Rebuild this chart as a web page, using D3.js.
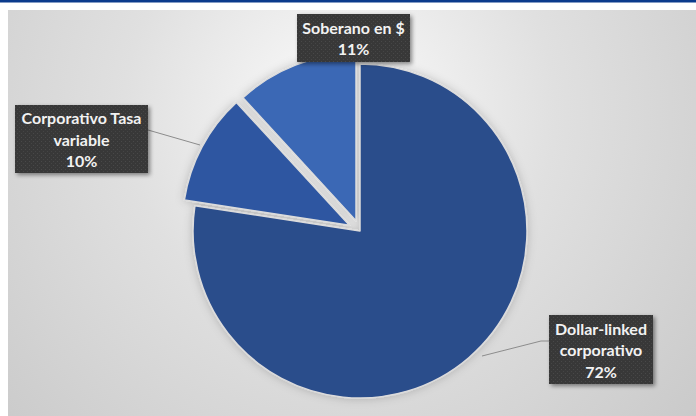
<!DOCTYPE html>
<html><head><meta charset="utf-8">
<script src="https://cdn.jsdelivr.net/npm/d3@7"></script>
<style>html,body{margin:0;padding:0;background:#fff;}svg{display:block;}</style>
</head><body>
<script>
const categories = ["Dollar-linked corporativo", "Corporativo Tasa variable", "Soberano en $"];
const values = [72, 10, 11];
const labelLines = [["Dollar-linked", "corporativo", "72%"], ["Corporativo Tasa", "variable", "10%"], ["Soberano en $", "11%"]];

const W = 696, H = 416;
const svg = d3.select("body").append("svg").attr("width", W).attr("height", H);
const defs = svg.append("defs");

const bg = defs.append("radialGradient").attr("id", "bg")
  .attr("gradientUnits", "userSpaceOnUse").attr("cx", 340).attr("cy", 110).attr("r", 480);
bg.append("stop").attr("offset", "0").attr("stop-color", "#fbfbfb");
bg.append("stop").attr("offset", "0.45").attr("stop-color", "#e0e0e0");
bg.append("stop").attr("offset", "1").attr("stop-color", "#c9c9c9");

const sh = defs.append("filter").attr("id", "sh").attr("x", "-20%").attr("y", "-20%").attr("width", "150%").attr("height", "150%");
sh.append("feDropShadow").attr("dx", 2).attr("dy", 2).attr("stdDeviation", 2).attr("flood-color", "#000").attr("flood-opacity", 0.45);

const pieSh = defs.append("filter").attr("id", "psh").attr("x", "-20%").attr("y", "-20%").attr("width", "140%").attr("height", "140%");
pieSh.append("feDropShadow").attr("dx", 0).attr("dy", 0).attr("stdDeviation", 5).attr("flood-color", "#000").attr("flood-opacity", 0.2);

const pat = defs.append("pattern").attr("id", "dots").attr("width", 4).attr("height", 4).attr("patternUnits", "userSpaceOnUse");
pat.append("rect").attr("width", 4).attr("height", 4).attr("fill", "#383838");
pat.append("rect").attr("x", 1).attr("y", 1).attr("width", 1).attr("height", 1).attr("fill", "#4a4a4a");
pat.append("rect").attr("x", 3).attr("y", 3).attr("width", 1).attr("height", 1).attr("fill", "#444");

// frame
svg.append("rect").attr("x", 0).attr("y", 0).attr("width", W).attr("height", 2.5).attr("fill", "#0b3b8c");
svg.append("rect").attr("x", 8).attr("y", 10).attr("width", W - 8).attr("height", H - 10).attr("fill", "url(#bg)");

const cx = 360, cy = 231, R = 167;
const colors = d3.scaleOrdinal().domain(categories).range(["#2c4d8b", "#2e57a1", "#3a67b5"]);
const explode = d3.scaleOrdinal().domain(categories).range([0, 12, 11]);

const pie = d3.pie().sort(null).value(d => d.v);
const arcs = pie(categories.map((c, i) => ({c, v: values[i]})));
const arc = d3.arc().innerRadius(0).outerRadius(R);

const g = svg.append("g").attr("transform", `translate(${cx},${cy})`).attr("filter", "url(#psh)");
g.selectAll("path").data(arcs).join("path")
  .attr("d", arc)
  .attr("transform", d => {
    const a = (d.startAngle + d.endAngle) / 2, e = explode(d.data.c);
    return `translate(${Math.sin(a) * e},${-Math.cos(a) * e})`;
  })
  .attr("fill", d => colors(d.data.c))
  .attr("stroke", "#dcdcdc").attr("stroke-width", 1.5).attr("stroke-linejoin", "round");

// labels
const boxes = [
  {x: 549, y: 315, w: 104, h: 69, lx: 541, ly: 341, px: 482, py: 356},
  {x: 15, y: 105, w: 133, h: 68, lx: 148, ly: 130, px: 200, py: 145},
  {x: 297, y: 14, w: 113, h: 48}
];
const lg = svg.append("g");
arcs.forEach((d, i) => {
  const b = boxes[i];
  if (b.px !== undefined) {
    const pts = i === 0 ? [[b.px, b.py], [b.lx, b.ly], [b.x, b.ly]] : [[b.lx, b.ly], [b.px, b.py]];
    lg.append("path").attr("d", d3.line()(pts)).attr("fill", "none").attr("stroke", "#8c8c8c").attr("stroke-width", 1);
  }
  lg.append("rect").attr("x", b.x).attr("y", b.y).attr("width", b.w).attr("height", b.h)
    .attr("fill", "url(#dots)").attr("filter", "url(#sh)");
  const lines = labelLines[i];
  const lh = 21.5;
  const y0 = b.y + b.h / 2 - (lines.length - 1) * lh / 2;
  lines.forEach((t, j) => {
    lg.append("text").attr("x", b.x + b.w / 2).attr("y", y0 + j * lh)
      .attr("text-anchor", "middle").attr("dominant-baseline", "central")
      .attr("font-family", "Lato, 'Open Sans', sans-serif").attr("font-weight", 700).attr("font-size", 16)
      .attr("fill", "#f2f2f2").text(t);
  });
});
</script>
</body></html>
